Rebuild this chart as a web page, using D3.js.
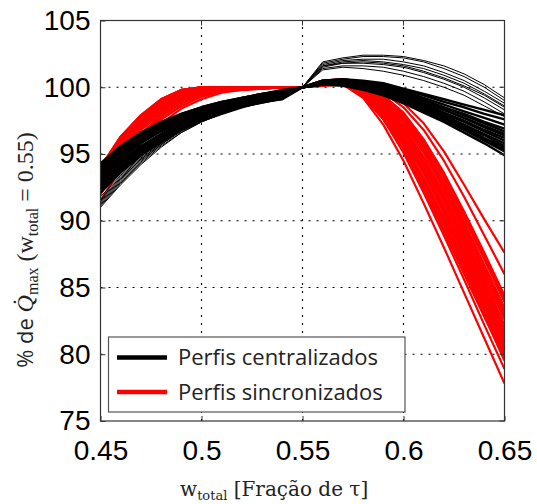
<!DOCTYPE html>
<html><head><meta charset="utf-8">
<script src="https://cdn.jsdelivr.net/npm/d3@7"></script>
<style>
html,body{margin:0;padding:0;background:#fff;}
svg{display:block;}
</style></head>
<body>
<svg id="chart" width="537" height="504"></svg>
<script>
// ---------- DATA ----------
const xValues = [0.45,0.46,0.47,0.48,0.49,0.50,0.51,0.52,0.53,0.54,0.55,0.56,0.57,0.58,0.59,0.60,0.61,0.62,0.63,0.64,0.65];
const xTicks = [0.45,0.5,0.55,0.6,0.65];
const xTickLabels = ["0.45","0.5","0.55","0.6","0.65"];
const yTicks = [75,80,85,90,95,100,105];
const yTickLabels = ["75","80","85","90","95","100","105"];
const legendLabels = ["Perfis centralizados","Perfis sincronizados"];

// "Perfis sincronizados" (red)
const redSeries = [
 [94.0,96.3,97.9,99.1,99.8,100.0,100.0,100.0,100.0,100.0,100, 100.5,100.6,100.4,99.8,98.8,97.3,95.2,92.7,90.1,87.6],
 [93.6,95.9,97.6,98.8,99.6,99.9,100.0,100.0,100.0,100.0,100, 100.5,100.6,100.3,99.6,98.5,96.8,94.5,91.8,88.9,86.0],
 [93.8,96.1,97.8,99.0,99.7,100.0,100.0,100.0,100.0,100.0,100, 100.4,100.6,100.2,99.4,98.1,96.1,93.6,90.7,87.6,84.4],
 [93.2,95.5,97.2,98.5,99.4,99.8,99.9,100.0,100.0,100.0,100, 100.4,100.5,100.1,99.3,97.9,95.8,93.2,90.2,87.1,83.9],
 [93.4,95.7,97.4,98.7,99.5,99.9,100.0,100.0,100.0,100.0,100, 100.4,100.5,100.1,99.2,97.7,95.6,92.9,89.9,86.7,83.5],
 [92.7,95.0,96.8,98.1,99.0,99.6,99.8,99.9,100.0,100.0,100, 100.3,100.5,100.0,99.0,97.5,95.3,92.6,89.6,86.3,83.0],
 [93.0,95.3,97.0,98.3,99.2,99.7,99.9,99.9,100.0,100.0,100, 100.3,100.5,100.0,98.9,97.3,95.1,92.3,89.2,85.9,82.6],
 [94.0,96.3,97.9,99.1,99.8,100.0,100.0,100.0,100.0,100.0,100, 100.3,100.4,99.9,98.8,97.1,94.8,92.0,88.9,85.6,82.2],
 [92.4,94.7,96.5,97.9,98.8,99.5,99.8,99.9,99.9,100.0,100, 100.3,100.4,99.8,98.6,96.8,94.5,91.7,88.6,85.2,81.8],
 [93.8,96.1,97.8,99.0,99.7,100.0,100.0,100.0,100.0,100.0,100, 100.3,100.4,99.7,98.4,96.6,94.2,91.4,88.2,84.8,81.3],
 [92.0,94.3,96.2,97.6,98.6,99.3,99.7,99.8,99.9,100.0,100, 100.2,100.4,99.6,98.2,96.3,93.9,91.0,87.8,84.4,80.9],
 [93.6,95.9,97.6,98.8,99.6,99.9,100.0,100.0,100.0,100.0,100, 100.2,100.3,99.5,98.0,96.0,93.5,90.6,87.4,84.0,80.5],
 [93.4,95.7,97.4,98.7,99.5,99.9,100.0,100.0,100.0,100.0,100, 100.2,100.3,99.4,97.8,95.6,93.0,90.1,86.9,83.5,80.0],
 [91.5,93.9,95.8,97.3,98.4,99.1,99.6,99.8,99.9,100.0,100, 100.1,100.3,99.3,97.6,95.3,92.5,89.5,86.3,82.9,79.5],
 [93.2,95.5,97.2,98.5,99.4,99.8,99.9,100.0,100.0,100.0,100, 100.1,100.2,99.2,97.2,94.5,91.3,88.0,84.6,81.2,77.8],
 [93.0,95.3,97.0,98.3,99.2,99.7,99.9,99.9,100.0,100.0,100, 100.4,100.5,100.1,99.1,97.6,95.5,92.8,89.8,86.5,83.2],
 [92.7,95.0,96.8,98.1,99.0,99.6,99.8,99.9,100.0,100.0,100, 100.3,100.4,99.9,98.7,97.0,94.7,91.9,88.8,85.4,82.0],
 [94.0,96.3,97.9,99.1,99.8,100.0,100.0,100.0,100.0,100.0,100, 100.3,100.4,99.8,98.5,96.7,94.4,91.6,88.4,85.0,81.5],
 [92.4,94.7,96.5,97.9,98.8,99.5,99.8,99.9,99.9,100.0,100, 100.2,100.3,99.6,98.3,96.4,94.0,91.1,87.9,84.6,81.1],
 [93.8,96.1,97.8,99.0,99.7,100.0,100.0,100.0,100.0,100.0,100, 100.2,100.3,99.5,98.1,96.1,93.7,90.8,87.6,84.2,80.7],
 [93.4,95.7,97.4,98.7,99.5,99.9,100.0,100.0,100.0,100.0,100, 100.4,100.5,100.2,99.3,97.9,95.9,93.3,90.4,87.3,84.1],
 [93.2,95.5,97.2,98.5,99.4,99.8,99.9,100.0,100.0,100.0,100, 100.2,100.3,99.4,97.9,95.8,93.2,90.3,87.1,83.7,80.2],
 [92.0,94.3,96.2,97.6,98.6,99.3,99.7,99.8,99.9,100.0,100, 100.3,100.5,100.0,99.0,97.4,95.2,92.5,89.4,86.1,82.8],
 [93.6,95.9,97.6,98.8,99.6,99.9,100.0,100.0,100.0,100.0,100, 100.3,100.4,99.8,98.6,96.9,94.6,91.8,88.7,85.3,81.9],
 [93.0,95.3,97.0,98.3,99.2,99.7,99.9,99.9,100.0,100.0,100, 100.2,100.3,99.6,98.2,96.2,93.8,90.9,87.7,84.3,80.8],
 [92.7,95.0,96.8,98.1,99.0,99.6,99.8,99.9,100.0,100.0,100, 100.4,100.5,100.2,99.4,98.0,96.0,93.4,90.5,87.4,84.2],
 [93.1,95.4,97.1,98.4,99.3,99.8,99.9,100.0,100.0,100.0,100, 100.2,100.3,99.4,97.7,95.3,92.3,89.2,86.0,82.8,79.7],
 [92.8,95.1,96.9,98.2,99.1,99.7,99.9,99.9,100.0,100.0,100, 100.2,100.3,99.5,97.9,95.6,92.7,89.6,86.4,83.1,79.9],
 [93.5,95.8,97.5,98.8,99.6,99.9,100.0,100.0,100.0,100.0,100, 100.2,100.3,99.4,97.6,95.1,92.1,88.9,85.6,82.2,78.9],
 [92.3,94.6,96.4,97.8,98.8,99.4,99.8,99.9,99.9,100.0,100, 100.2,100.4,99.6,98.0,95.8,93.0,89.9,86.7,83.4,80.1],
 [93.9,96.2,97.8,99.0,99.7,100.0,100.0,100.0,100.0,100.0,100, 100.3,100.4,99.7,98.3,96.3,93.7,90.7,87.5,84.1,80.6]
];

// "Perfis centralizados" (black) - main band
const blackSeries = [
 [94.3,95.6,96.6,97.4,98.0,98.5,98.9,99.2,99.5,99.8,100, 100.2,100.1,99.8,99.4,98.8,98.1,97.4,96.6,95.8,94.9],
 [94.1,95.4,96.4,97.2,97.9,98.4,98.8,99.2,99.5,99.7,100, 100.3,100.3,100.0,99.6,99.1,98.4,97.7,97.0,96.2,95.5],
 [93.9,95.2,96.2,97.1,97.8,98.3,98.7,99.1,99.4,99.7,100, 100.3,100.4,100.2,99.8,99.3,98.8,98.1,97.5,96.8,96.2],
 [93.7,95.0,96.1,97.0,97.7,98.2,98.7,99.0,99.4,99.6,100, 100.4,100.5,100.3,100.0,99.6,99.1,98.5,98.0,97.4,96.9],
 [93.5,94.8,95.9,96.8,97.5,98.1,98.6,99.0,99.3,99.6,100, 100.5,100.6,100.4,100.2,99.8,99.4,98.9,98.5,98.0,97.6],
 [93.3,94.7,95.8,96.7,97.4,98.0,98.5,98.9,99.3,99.5,100, 100.2,100.2,99.9,99.5,98.9,98.2,97.5,96.8,96.0,95.2],
 [93.1,94.5,95.6,96.5,97.3,97.9,98.4,98.8,99.2,99.5,100, 100.3,100.3,100.1,99.7,99.2,98.6,97.9,97.2,96.5,95.8],
 [92.9,94.3,95.4,96.4,97.2,97.8,98.3,98.8,99.1,99.4,100, 100.4,100.4,100.2,99.9,99.5,98.9,98.3,97.7,97.1,96.5],
 [92.7,94.1,95.3,96.3,97.1,97.7,98.2,98.7,99.1,99.4,100, 100.4,100.5,100.4,100.1,99.7,99.2,98.7,98.2,97.7,97.2],
 [92.5,93.9,95.1,96.1,96.9,97.6,98.1,98.6,99.0,99.3,100, 100.5,100.6,100.5,100.3,99.9,99.5,99.1,98.7,98.3,97.9],
 [92.3,93.8,95.0,96.0,96.8,97.5,98.1,98.6,99.0,99.2,100, 100.2,100.2,99.9,99.5,99.0,98.3,97.6,96.9,96.1,95.4],
 [92.1,93.6,94.9,95.9,96.8,97.5,98.0,98.5,98.9,99.1,100, 100.3,100.4,100.1,99.8,99.3,98.7,98.0,97.4,96.7,96.0],
 [94.2,95.5,96.5,97.3,98.0,98.5,98.9,99.2,99.5,99.7,100, 100.3,100.3,100.1,99.6,99.0,98.4,97.6,96.9,96.1,95.3],
 [93.6,94.9,96.0,96.9,97.6,98.2,98.6,99.0,99.4,99.6,100, 100.4,100.4,100.2,99.9,99.4,98.9,98.3,97.7,97.0,96.4],
 [93.0,94.4,95.5,96.5,97.2,97.9,98.4,98.8,99.2,99.5,100, 100.4,100.5,100.3,100.0,99.6,99.0,98.5,97.9,97.3,96.7],
 [92.6,94.0,95.2,96.2,97.0,97.6,98.2,98.6,99.0,99.3,100, 100.2,100.3,100.0,99.6,99.1,98.5,97.8,97.1,96.4,95.6]
];

// "Perfis centralizados" (black) - upper group
const blackUpperSeries = [
 [91.0,92.7,94.2,95.5,96.6,97.4,98.0,98.5,98.8,99.1,100, 101.9,102.2,102.4,102.4,102.3,102.0,101.6,101.0,100.2,99.2],
 [91.2,92.9,94.4,95.7,96.7,97.5,98.1,98.5,98.9,99.1,100, 101.8,102.1,102.3,102.3,102.2,101.9,101.4,100.8,100.0,99.0],
 [91.4,93.1,94.6,95.8,96.8,97.6,98.2,98.6,98.9,99.2,100, 101.7,102.0,102.1,102.1,101.9,101.6,101.1,100.5,99.7,98.8],
 [91.6,93.3,94.7,95.9,96.9,97.6,98.2,98.6,99.0,99.2,100, 101.6,101.9,102.0,101.9,101.7,101.4,100.9,100.3,99.5,98.6],
 [91.1,92.8,94.3,95.6,96.6,97.4,98.0,98.5,98.8,99.1,100, 101.5,101.8,101.8,101.7,101.5,101.1,100.6,100.0,99.2,98.3],
 [91.8,93.4,94.8,96.0,97.0,97.7,98.3,98.7,99.0,99.3,100, 101.4,101.6,101.6,101.5,101.2,100.8,100.3,99.7,98.9,98.0],
 [91.3,93.0,94.5,95.7,96.8,97.5,98.1,98.6,98.9,99.2,100, 101.3,101.5,101.4,101.2,100.9,100.5,100.0,99.4,98.6,97.8],
 [91.5,93.2,94.6,95.8,96.8,97.6,98.2,98.6,99.0,99.2,100, 101.6,101.8,101.9,101.8,101.6,101.2,100.7,100.1,99.4,98.5]
];

// ---------- CHART ----------
const svg = d3.select("#chart");
const L = 100.5, R = 504.5, T = 20.5, B = 421;
const x = d3.scaleLinear().domain([0.45,0.65]).range([L,R]);
const y = d3.scaleLinear().domain([75,105]).range([B,T]);

svg.append("defs").append("clipPath").attr("id","clip")
  .append("rect").attr("x",L).attr("y",T).attr("width",R-L).attr("height",B-T);

// grid
const grid = svg.append("g").attr("stroke","#000").attr("stroke-width",1.1).attr("stroke-dasharray","2,6");
grid.selectAll("line.v").data(xTicks.slice(1,-1)).enter().append("line")
  .attr("x1",d=>x(d)).attr("x2",d=>x(d)).attr("y1",B).attr("y2",T);
grid.selectAll("line.h").data(yTicks.slice(1,-1)).enter().append("line")
  .attr("y1",d=>y(d)).attr("y2",d=>y(d)).attr("x1",L).attr("x2",R);

const line = d3.line().x((d,i)=>x(xValues[i])).y(d=>y(d));
const plot = svg.append("g").attr("clip-path","url(#clip)").attr("fill","none");

plot.selectAll("path.red").data(redSeries).enter().append("path")
  .attr("class","red").attr("d",line).attr("stroke","#ff0000").attr("stroke-width",2.2)
  .attr("stroke-linejoin","round");
plot.selectAll("path.blk").data(blackSeries).enter().append("path")
  .attr("class","blk").attr("d",line).attr("stroke","#000").attr("stroke-width",2.4)
  .attr("stroke-linejoin","round");
plot.selectAll("path.blku").data(blackUpperSeries).enter().append("path")
  .attr("class","blku").attr("d",line).attr("stroke","#000").attr("stroke-width",1.0);

// axes
const xAxis = d3.axisBottom(x).tickValues(xTicks).tickFormat((d,i)=>xTickLabels[i])
  .tickSizeInner(-5).tickSizeOuter(0).tickPadding(19);
const gx = svg.append("g").attr("transform",`translate(0,${B})`).call(xAxis);
const yAxis = d3.axisLeft(y).tickValues(yTicks).tickFormat((d,i)=>yTickLabels[i])
  .tickSizeInner(-5).tickSizeOuter(0).tickPadding(10);
const gy = svg.append("g").attr("transform",`translate(${L},0)`).call(yAxis);
[gx,gy].forEach(g=>{
  g.select(".domain").remove();
  g.selectAll("text").attr("font-family","'Liberation Sans', Arial, sans-serif")
    .attr("font-size",28).attr("fill","#000");
  g.selectAll("line").attr("stroke","#333");
});
// mirrored ticks top/right
const tk = svg.append("g").attr("stroke","#333");
tk.selectAll("line.t").data(xTicks).enter().append("line")
  .attr("x1",d=>x(d)).attr("x2",d=>x(d)).attr("y1",T).attr("y2",T+5);
tk.selectAll("line.r").data(yTicks).enter().append("line")
  .attr("y1",d=>y(d)).attr("y2",d=>y(d)).attr("x1",R).attr("x2",R-5);

// box
svg.append("rect").attr("x",L).attr("y",T).attr("width",R-L).attr("height",B-T)
  .attr("fill","none").attr("stroke","#333").attr("stroke-width",1.2);

// legend
const lg = svg.append("g");
lg.append("rect").attr("x",108.5).attr("y",337).attr("width",296.5).attr("height",75)
  .attr("fill","#fff").attr("stroke","#555").attr("stroke-width",1.2);
const legColors = ["#000","#ff0000"];
legendLabels.forEach((t,i)=>{
  const yy = 357.5 + i*34.5;
  lg.append("line").attr("x1",117).attr("x2",167).attr("y1",yy).attr("y2",yy)
    .attr("stroke",legColors[i]).attr("stroke-width",4.5);
  lg.append("text").attr("x",178).attr("y",yy+7.5).text(t)
    .attr("font-family","'Open Sans', sans-serif").attr("font-size",22).attr("fill","#222");
});

// x label
const xl = svg.append("text").attr("x",180).attr("y",496)
  .attr("font-family","'DejaVu Serif', serif").attr("font-size",20).attr("fill","#222");
xl.append("tspan").text("w");
xl.append("tspan").attr("font-size",13).attr("dy",4).text("total");
xl.append("tspan").attr("dy",-4).text(" [Fração de τ]");

// y label
const yl = svg.append("text").attr("transform","translate(33,250) rotate(-90)")
  .attr("text-anchor","middle").attr("font-size",24).attr("fill","#222")
  .attr("font-family","'Liberation Serif', serif");
yl.append("tspan").attr("font-family","'Open Sans', sans-serif").attr("font-size",22).text("% de ");
yl.append("tspan").attr("font-style","italic").text("Q\u0307");
yl.append("tspan").attr("font-size",16).attr("dy",5).text("max");
yl.append("tspan").attr("dy",-5).text(" (w");
yl.append("tspan").attr("font-size",16).attr("dy",5).text("total");
yl.append("tspan").attr("dy",-5).text(" = 0.55)");
</script>
</body></html>
